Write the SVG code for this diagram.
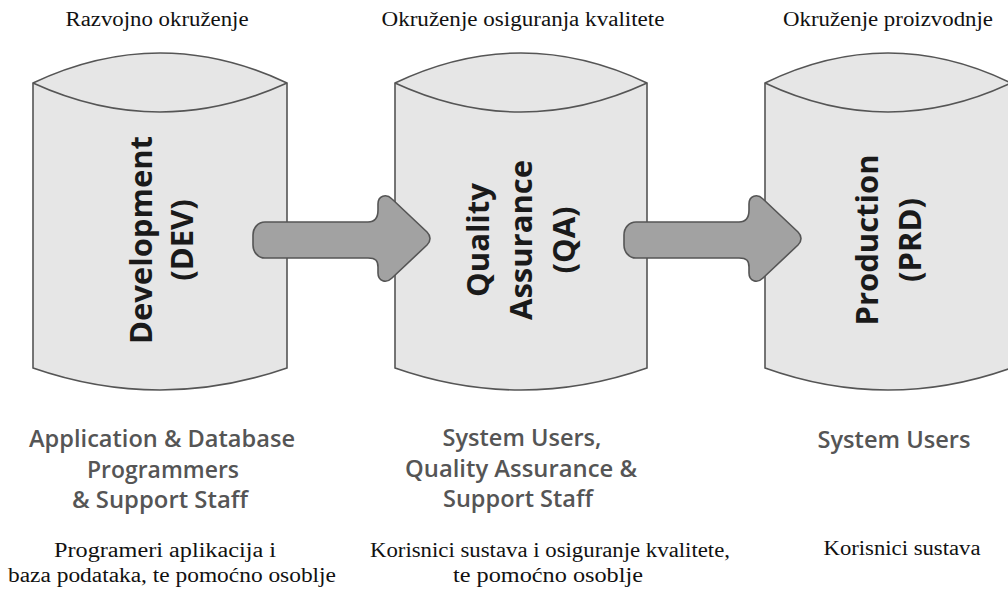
<svg xmlns="http://www.w3.org/2000/svg" xmlns:xlink="http://www.w3.org/1999/xlink" width="1008" height="589" viewBox="0 0 1008 589">
<style>
.cyl{fill:#e6e6e6;stroke:#555;stroke-width:1.6}
.rim{fill:none;stroke:#555;stroke-width:1.6}
.arrow{fill:#a2a2a2;stroke:#555;stroke-width:1.6;stroke-linejoin:round}
.title{font-family:"Open Sans","Liberation Sans",sans-serif;font-weight:bold;font-size:31px;fill:#1a1a1a;text-anchor:middle}
.role{font-family:"Open Sans","Liberation Sans",sans-serif;font-weight:600;font-size:23px;fill:#555;text-anchor:middle}
.hr{font-family:"Liberation Serif","Times New Roman",serif;font-size:20px;fill:#111;text-anchor:middle}
</style>
<defs>
<path id="arrowShape" d="M 265,222 L 368,222 C 376,222 378,216 378,210 L 378,204 C 378,196 386,193 392,199 L 427,232 C 431,236 431,241 427,245 L 392,278 C 386,284 378,281 378,273 L 378,267 C 378,261 376,258 368,258 L 265,258 C 258,258 253,252 253,245 L 253,235 C 253,228 258,222 265,222 Z"/>
</defs>
<rect width="1008" height="589" fill="#fff"/>

<g id="labels-top">
<text class="hr" x="157" y="26" textLength="183" lengthAdjust="spacingAndGlyphs">Razvojno okruženje</text>
<text class="hr" x="523" y="26" textLength="283" lengthAdjust="spacingAndGlyphs">Okruženje osiguranja kvalitete</text>
<text class="hr" x="888" y="26" textLength="210" lengthAdjust="spacingAndGlyphs">Okruženje proizvodnje</text>
</g>

<g id="node-dev">
<path class="cyl" d="M33,83 Q160,23 287,83 L287,368 Q160,412 33,368 Z"/>
<path class="rim" d="M33,83 Q160,141 287,83"/>
<text class="title" transform="translate(152,240) rotate(-90)" x="0" y="0">Development</text>
<text class="title" transform="translate(193,240) rotate(-90)" x="0" y="0">(DEV)</text>
</g>

<g id="node-qa">
<path class="cyl" d="M395,83 Q521,23 647,83 L647,368 Q521,412 395,368 Z"/>
<path class="rim" d="M395,83 Q521,141 647,83"/>
<text class="title" transform="translate(489,240) rotate(-90)" x="0" y="0">Quality</text>
<text class="title" transform="translate(532,240) rotate(-90)" x="0" y="0">Assurance</text>
<text class="title" transform="translate(575,240) rotate(-90)" x="0" y="0">(QA)</text>
</g>

<g id="node-prd">
<path class="cyl" d="M765,83 Q888,23 1011,83 L1011,368 Q888,412 765,368 Z"/>
<path class="rim" d="M765,83 Q888,141 1011,83"/>
<text class="title" transform="translate(878,240) rotate(-90)" x="0" y="0">Production</text>
<text class="title" transform="translate(921,240) rotate(-90)" x="0" y="0">(PRD)</text>
</g>

<g id="connectors">
<use xlink:href="#arrowShape" href="#arrowShape" class="arrow"/>
<use xlink:href="#arrowShape" href="#arrowShape" class="arrow" x="371"/>
</g>

<g id="roles">
<text class="role" x="162" y="447" textLength="266" lengthAdjust="spacingAndGlyphs">Application &amp; Database</text>
<text class="role" x="163" y="478" textLength="152" lengthAdjust="spacingAndGlyphs">Programmers</text>
<text class="role" x="160" y="508" textLength="176" lengthAdjust="spacingAndGlyphs">&amp; Support Staff</text>
<text class="role" x="522" y="446" textLength="159" lengthAdjust="spacingAndGlyphs">System Users,</text>
<text class="role" x="521" y="477" textLength="232" lengthAdjust="spacingAndGlyphs">Quality Assurance &amp;</text>
<text class="role" x="518" y="507" textLength="150" lengthAdjust="spacingAndGlyphs">Support Staff</text>
<text class="role" x="894" y="448" textLength="153" lengthAdjust="spacingAndGlyphs">System Users</text>
</g>

<g id="labels-bottom">
<text class="hr" x="165" y="557" textLength="222" lengthAdjust="spacingAndGlyphs">Programeri aplikacija i</text>
<text class="hr" x="172" y="582" textLength="328" lengthAdjust="spacingAndGlyphs">baza podataka, te pomoćno osoblje</text>
<text class="hr" x="550" y="557" textLength="360" lengthAdjust="spacingAndGlyphs">Korisnici sustava i osiguranje kvalitete,</text>
<text class="hr" x="548" y="582" textLength="190" lengthAdjust="spacingAndGlyphs">te pomoćno osoblje</text>
<text class="hr" x="902" y="555" textLength="157" lengthAdjust="spacingAndGlyphs">Korisnici sustava</text>
</g>
</svg>
